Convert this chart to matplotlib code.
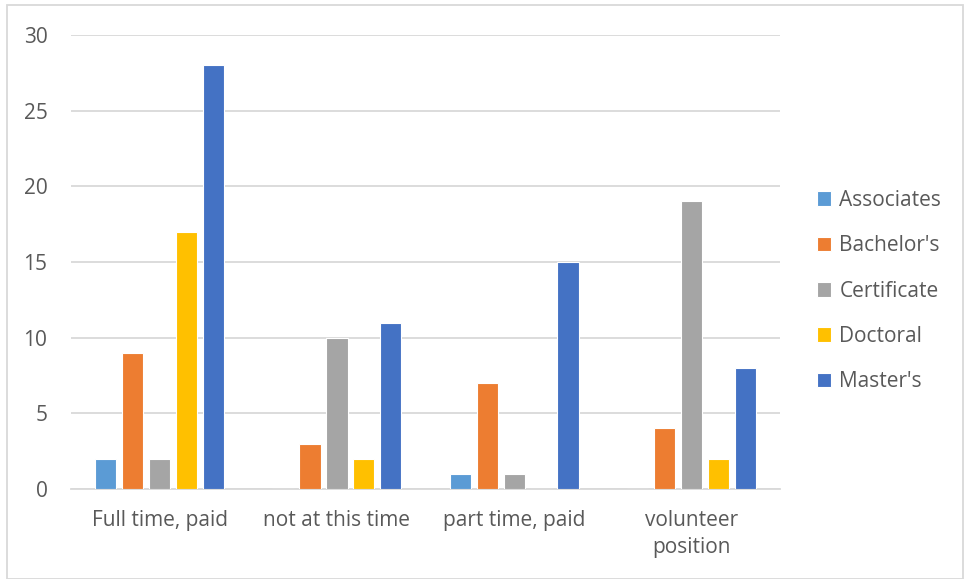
import matplotlib.pyplot as plt
import numpy as np
from matplotlib.patches import Rectangle

categories = ["Full time, paid", "not at this time", "part time, paid", "volunteer\nposition"]
series_names = ["Associates", "Bachelor's", "Certificate", "Doctoral", "Master's"]
associates = [2, 0, 1, 0]
bachelors = [9, 3, 7, 4]
certificate = [2, 10, 1, 19]
doctoral = [17, 2, 0, 2]
masters = [28, 11, 15, 8]
colors = ["#5B9BD5", "#ED7D31", "#A5A5A5", "#FFC000", "#4472C4"]

plt.rcParams["font.family"] = ["Open Sans", "DejaVu Sans"]
text_color = "#595959"
fs = 15

fig = plt.figure(figsize=(9.69, 5.79), dpi=100)
ax = fig.add_axes([0.0733, 0.1554, 0.7317, 0.7842])

x = np.arange(len(categories))
step = 0.152
width = 0.12
values = [associates, bachelors, certificate, doctoral, masters]
for i, (name, vals, c) in enumerate(zip(series_names, values, colors)):
    ax.bar(x + (i - 2) * step, vals, width=width, color=c, label=name,
           edgecolor="white", linewidth=0.8, zorder=3)

ax.set_xlim(-0.5, len(categories) - 0.5)
ax.set_ylim(0, 30)
ax.set_yticks(range(0, 31, 5))
ax.yaxis.grid(True, color="#D9D9D9", linewidth=1.3, zorder=0)
ax.set_axisbelow(True)
for s in ["top", "right", "left"]:
    ax.spines[s].set_visible(False)
ax.spines["bottom"].set_color("#D9D9D9")
ax.spines["bottom"].set_linewidth(1.3)
ax.tick_params(axis="both", length=0, labelsize=fs, labelcolor=text_color)
ax.tick_params(axis="y", pad=17)
ax.tick_params(axis="x", pad=15)
ax.set_xticks(x)
ax.set_xticklabels(categories, linespacing=1.4)

leg = ax.legend(loc="center left", bbox_to_anchor=(1.025, 0.436), frameon=False,
                fontsize=fs, labelspacing=1.17, handlelength=0.7,
                handleheight=0.7, handletextpad=0.4)
for t in leg.get_texts():
    t.set_color(text_color)

fig.patches.append(Rectangle((7 / 969, 0.0), 956 / 969, 1 - 5 / 579,
                             transform=fig.transFigure, fill=False,
                             edgecolor="#D9D9D9", linewidth=1.3))

fig.savefig("out.png", dpi=100)
